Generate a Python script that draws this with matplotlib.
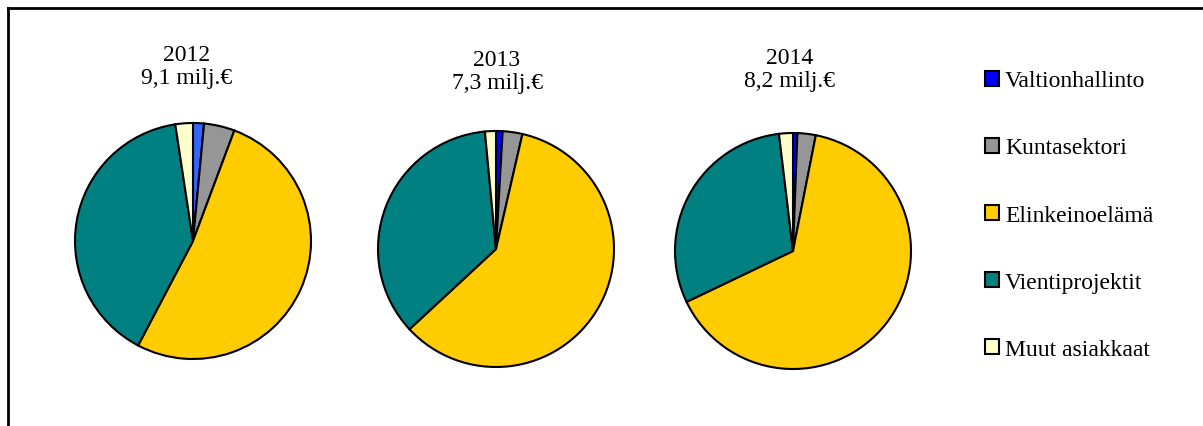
import matplotlib.pyplot as plt
from matplotlib.lines import Line2D

plt.rcParams['font.family'] = ['Liberation Serif', 'DejaVu Serif']

# shares (%), clockwise from 12 o'clock
categories = ['Valtionhallinto', 'Kuntasektori', 'Elinkeinoelämä',
              'Vientiprojektit', 'Muut asiakkaat']
years = ['2012', '2013', '2014']
totals = ['9,1 milj.€', '7,3 milj.€', '8,2 milj.€']
shares_2012 = [1.5, 4.2, 52.0, 39.9, 2.4]
shares_2013 = [0.9, 2.7, 59.5, 35.4, 1.5]
shares_2014 = [0.6, 2.5, 64.8, 30.2, 1.9]
shares = [shares_2012, shares_2013, shares_2014]

colors = ['#0000FF', '#969696', '#FFCC00', '#008080', '#FFFFCC']
colors_2012 = ['#3366FF'] + colors[1:]

W, H = 1203, 427
fig = plt.figure(figsize=(W / 100, H / 100), dpi=100)

# pie centres and radius in pixels
centres = [(193, 242), (496, 250), (793, 252)]
r = 118

wedges_for_legend = None
for i, (vals, (cx, cy)) in enumerate(zip(shares, centres)):
    ax = fig.add_axes([(cx - r) / W, (H - cy - r) / H, 2 * r / W, 2 * r / H])
    cols = colors_2012 if i == 0 else colors
    wedges, _ = ax.pie(vals, colors=cols, startangle=90, counterclock=False,
                       wedgeprops=dict(edgecolor='black', linewidth=1.5))
    for w in wedges:
        w.set_clip_on(False)
    ax.set_xlim(-1, 1)
    ax.set_ylim(-1, 1)
    ax.set_aspect('equal')
    ax.axis('off')
    if i == 1:
        wedges_for_legend = wedges

title_pos = [(187, 67), (497, 72), (790, 70)]
for (tx, ty), yr, tot in zip(title_pos, years, totals):
    fig.text(tx / W, 1 - ty / H, yr + '\n' + tot, ha='center', va='center',
             fontsize=17, linespacing=1.1)

leg = fig.legend(wedges_for_legend, categories, loc='center left',
                 bbox_to_anchor=(985 / W, 1 - 216 / H), frameon=False,
                 fontsize=17, handlelength=0.6, handleheight=0.6,
                 handletextpad=0.25, labelspacing=1.95, borderpad=0,
                 borderaxespad=0)
for p in leg.get_patches():
    p.set_linewidth(1.5)

# chart frame (only left and top edges are visible in the crop)
fig.add_artist(Line2D([7.5 / W, 7.5 / W], [0, 1 - 9 / H], color='black', lw=2))
fig.add_artist(Line2D([7.5 / W, 1], [1 - 9 / H, 1 - 9 / H], color='black', lw=2))

fig.savefig('out.png', dpi=100)
